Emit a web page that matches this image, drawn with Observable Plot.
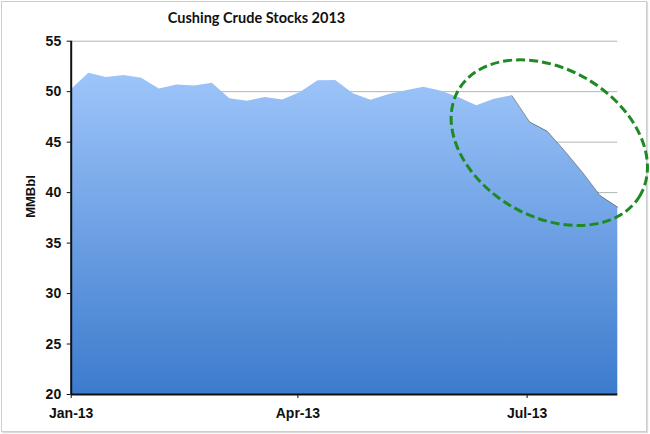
<!DOCTYPE html>
<html><head><meta charset="utf-8">
<script src="https://cdn.jsdelivr.net/npm/d3@7"></script>
<script src="https://cdn.jsdelivr.net/npm/@observablehq/plot@0.6"></script>
<style>
body{margin:0;background:#fff;}
#wrap{position:relative;width:650px;height:434px;overflow:hidden;background:#fff;}
#frame{position:absolute;left:1px;top:1px;width:644px;height:429px;border:1px solid #cdcdcd;box-shadow:1px 1px 1px #dcdcdc;}
#title{position:absolute;left:0;width:513px;top:9px;text-align:center;font:bold 14.5px Lato, "Open Sans", sans-serif;color:#111;}
#chart{position:absolute;left:0;top:0;}
</style></head><body>
<div id="wrap"><div id="frame"></div><div id="title"></div><div id="chart"></div></div>
<script>
const titleText = "Cushing Crude Stocks 2013";
const yLabel = "MMBbl";
const weeks = ["2013-01-04","2013-01-11","2013-01-18","2013-01-25","2013-02-01","2013-02-08","2013-02-15","2013-02-22",
  "2013-03-01","2013-03-08","2013-03-15","2013-03-22","2013-03-29","2013-04-05","2013-04-12","2013-04-19",
  "2013-04-26","2013-05-03","2013-05-10","2013-05-17","2013-05-24","2013-05-31","2013-06-07","2013-06-14",
  "2013-06-21","2013-06-28","2013-07-05","2013-07-12","2013-07-19","2013-07-26","2013-08-02","2013-08-09"];
const stocks = [50.2,51.83,51.4,51.6,51.33,50.27,50.65,50.55,50.83,49.3,49.05,49.43,49.17,49.93,51.08,51.1,
  49.8,49.15,49.7,50.1,50.45,50.05,49.4,48.6,49.25,49.6,47.0,46.07,44.1,42.0,39.7,38.55];
const xTicks = ["2013-01-04","2013-04-04","2013-07-04"];
const yTicks = [20,25,30,35,40,45,50,55];
const declineStart = "2013-06-28";
const ellipseNote = {date: "2013-07-13", value: 44.9, rx: 105, ry: 74, angle: 30};

const toDate = s => new Date(s + "T00:00:00Z");
const data = weeks.map((w, i) => ({date: toDate(w), value: stocks[i]}));
const decline = data.filter(d => d.date >= toDate(declineStart));

document.getElementById("title").textContent = titleText;

const gradient = () => {
  const defs = d3.create("svg:defs");
  const g = defs.append("linearGradient").attr("id", "areaGrad")
    .attr("x1", 0).attr("y1", 0).attr("x2", 0).attr("y2", 1);
  g.append("stop").attr("offset", "0%").attr("stop-color", "#9EC5FA");
  g.append("stop").attr("offset", "100%").attr("stop-color", "#3C7BCD");
  return defs.node();
};

const ellipse = (index, scales) => {
  const cx = scales.x(toDate(ellipseNote.date));
  const cy = scales.y(ellipseNote.value);
  return d3.create("svg:ellipse")
    .attr("cx", 0).attr("cy", 0)
    .attr("rx", ellipseNote.rx).attr("ry", ellipseNote.ry)
    .attr("transform", `translate(${cx},${cy}) rotate(${ellipseNote.angle})`)
    .attr("fill", "none").attr("stroke", "#1E8A24")
    .attr("stroke-width", 3).attr("stroke-dasharray", "9,4").node();
};

const chart = Plot.plot({
  width: 650,
  height: 434,
  marginLeft: 70.7,
  marginRight: 32.7,
  marginTop: 40.7,
  marginBottom: 40,
  style: {fontFamily: "'Liberation Sans', Arial, sans-serif", fontSize: "14px", color: "#111", background: "transparent"},
  x: {type: "utc", domain: [data[0].date, data[data.length - 1].date]},
  y: {domain: [20, 55]},
  marks: [
    gradient,
    Plot.gridY(yTicks.filter(t => t > 20), {stroke: "#b4b4b4", strokeOpacity: 1, strokeWidth: 1}),
    Plot.areaY(data, {x: "date", y1: 20, y2: "value", fill: "url(#areaGrad)"}),
    Plot.line(decline, {x: "date", y: "value", stroke: "#333", strokeWidth: 1, strokeOpacity: 0.5}),
    Plot.ruleY([20], {stroke: "#111", strokeWidth: 2}),
    Plot.ruleX([data[0].date], {stroke: "#111", strokeWidth: 2}),
    Plot.axisY(yTicks, {tickSize: 4, tickPadding: 6, fontWeight: "bold", fontSize: 14, label: null, stroke: "#111"}),
    Plot.axisX(xTicks.map(toDate), {tickSize: 4, tickPadding: 10, fontWeight: "bold", fontSize: 14, label: null,
      tickFormat: d3.utcFormat("%b-%y"), stroke: "#111"}),
    Plot.text([yLabel], {frameAnchor: "left", dx: -40, rotate: -90, text: d => d,
      fontWeight: "bold", fontSize: 13}),
    ellipse
  ]
});
document.getElementById("chart").appendChild(chart);
</script>
</body></html>
